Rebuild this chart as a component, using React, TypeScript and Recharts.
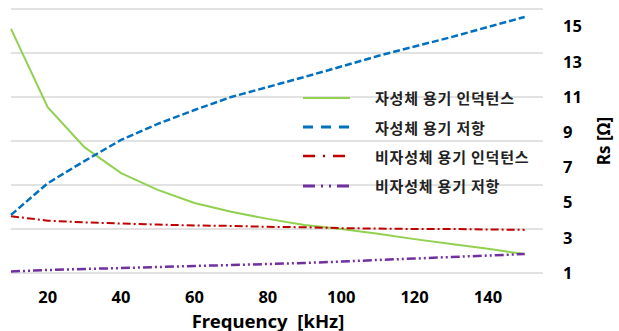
import React from 'react';
import { LineChart, Line, XAxis, YAxis, CartesianGrid, Legend } from 'recharts';

const freqs = [10, 20, 30, 40, 50, 60, 70, 80, 90, 100, 110, 120, 130, 140, 150];
// inductance series (hidden primary axis, arbitrary units 0..60)
const magInductance = [55.5, 37.7, 28.6, 22.7, 18.9, 15.9, 13.9, 12.3, 10.9, 10.0, 8.9, 7.7, 6.6, 5.5, 4.3];
const nonMagInductance = [12.9, 11.9, 11.5, 11.25, 11.0, 10.8, 10.7, 10.5, 10.4, 10.2, 10.1, 10.0, 10.0, 9.9, 9.8];
// resistance series (Rs [Ω], right axis)
const magResistance = [4.3, 6.1, 7.36, 8.56, 9.47, 10.26, 11.0, 11.57, 12.14, 12.73, 13.33, 13.87, 14.4, 14.98, 15.55];
const nonMagResistance = [1.09, 1.17, 1.23, 1.28, 1.34, 1.4, 1.45, 1.51, 1.57, 1.65, 1.74, 1.82, 1.91, 1.99, 2.08];

const xTicks = [20, 40, 60, 80, 100, 120, 140];
const rightTicks = [1, 3, 5, 7, 9, 11, 13, 15];
const leftTicks = [0, 10, 20, 30, 40, 50, 60];

const seriesNames = ['자성체 용기 인덕턴스', '자성체 용기 저항', '비자성체 용기 인덕턴스', '비자성체 용기 저항'];
const xTitle = 'Frequency\u00A0\u00A0[kHz]';
const yTitle = 'Rs [Ω]';

const data = freqs.map((f, i) => ({
  f,
  magL: magInductance[i],
  magR: magResistance[i],
  nonL: nonMagInductance[i],
  nonR: nonMagResistance[i],
}));

const FONT = "'Noto Sans', 'Noto Sans CJK KR', sans-serif";
const KFONT = "'Noto Sans CJK KR', 'Noto Sans', sans-serif";

const series = [
  { key: 'magL', name: seriesNames[0], axis: 'L', color: '#92D050', width: 2, dash: undefined, legendDash: undefined, legendWidth: 2 },
  { key: 'magR', name: seriesNames[1], axis: 'R', color: '#0070C0', width: 2.5, dash: '7 3', legendDash: '10 8', legendWidth: 3 },
  { key: 'nonL', name: seriesNames[2], axis: 'L', color: '#C00000', width: 2, dash: '8 3 2 3', legendDash: '12 8 2 8', legendWidth: 2.5 },
  { key: 'nonR', name: seriesNames[3], axis: 'R', color: '#7030A0', width: 2.5, dash: '9 3 2 3 2 3', legendDash: '12 6 2 6 2 6', legendWidth: 3 },
];

const renderLegend = () => (
  <div style={{ fontFamily: KFONT }}>
    {series.map((s) => (
      <div key={s.key} style={{ height: 29.4, display: 'flex', alignItems: 'center' }}>
        <svg width={47} height={10} style={{ display: 'block' }}>
          <line x1={0} y1={5} x2={47} y2={5} stroke={s.color} strokeWidth={s.legendWidth} strokeDasharray={s.legendDash} />
        </svg>
        <span style={{ marginLeft: 25, fontSize: 15, fontWeight: 700, color: '#222', whiteSpace: 'pre', letterSpacing: 0.8 }}>{s.name}</span>
      </div>
    ))}
  </div>
);

const RsLabel = (props: any) => {
  const vb = props.viewBox || {};
  const cx = (vb.x || 0) + 60;
  const cy = (vb.y || 0) + (vb.height || 0) / 2;
  return (
    <text
      x={cx}
      y={cy}
      transform={`rotate(-90 ${cx} ${cy})`}
      textAnchor="middle"
      dominantBaseline="central"
      fontFamily={FONT}
      fontWeight={700}
      fontSize={17}
      fill="#000"
    >
      {yTitle}
    </text>
  );
};

const FreqLabel = (props: any) => {
  const vb = props.viewBox || {};
  const cx = (vb.x || 0) + (vb.width || 0) / 2 - 9;
  const by = (vb.y || 0) + (vb.height || 0) - 3.5;
  return (
    <text x={cx} y={by} textAnchor="middle" fontFamily={FONT} fontWeight={700} fontSize={18.5} fill="#000">
      {xTitle}
    </text>
  );
};

export default function App() {
  return (
    <div style={{ position: 'absolute', left: 0, top: 0, width: 619, height: 331, background: '#fff' }}>
      <LineChart width={619} height={331} data={data} margin={{ top: 9, right: 0, left: 11, bottom: 0 }}>
        <CartesianGrid horizontal vertical={false} stroke="#D9D9D9" strokeWidth={1.3} yAxisId="L" />
        <XAxis
          dataKey="f"
          type="number"
          domain={[10, 155]}
          ticks={xTicks}
          height={58}
          axisLine={false}
          tickLine={false}
          tickSize={16}
          tick={{ fontFamily: FONT, fontWeight: 700, fontSize: 16.5, fill: '#000' }}
          label={{ content: FreqLabel }}
        />
        <YAxis yAxisId="L" hide width={0} domain={[0, 60]} ticks={leftTicks} />
        <YAxis
          yAxisId="R"
          orientation="right"
          width={76}
          domain={[1, 16]}
          ticks={rightTicks}
          axisLine={false}
          tickLine={false}
          tickSize={18}
          tick={{ fontFamily: FONT, fontWeight: 700, fontSize: 16.5, fill: '#000' }}
          label={{ content: RsLabel }}
        />
        <Legend layout="vertical" verticalAlign="middle" align="center" content={renderLegend}
          wrapperStyle={{ position: 'absolute', left: 303, top: 83, width: 300 }} />
        {series.map((s) => (
          <Line
            key={s.key}
            yAxisId={s.axis}
            dataKey={s.key}
            name={s.name}
            type="linear"
            stroke={s.color}
            strokeWidth={s.width}
            strokeDasharray={s.dash}
            dot={false}
            activeDot={false}
            isAnimationActive={false}
          />
        ))}
      </LineChart>
    </div>
  );
}
